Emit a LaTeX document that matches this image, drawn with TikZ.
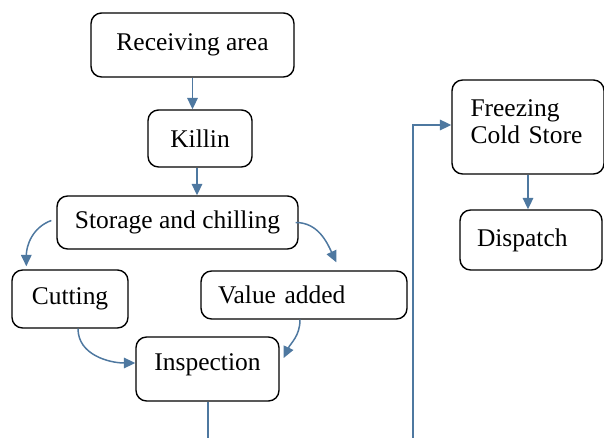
\documentclass[tikz,border=0pt]{standalone}
\usepackage{fontspec}
\setmainfont{Liberation Serif}
\newfontfamily\flowfont{Liberation Serif}
\usetikzlibrary{arrows.meta}
\definecolor{flowblue}{RGB}{78,120,160}

\begin{document}
\begin{tikzpicture}[x=0.02cm,y=-0.02cm,
  box/.style={draw,thick,rounded corners=6pt,inner sep=0pt,
    font=\flowfont\fontsize{14.5}{16.5}\selectfont},
  flow/.style={flowblue,line width=0.85pt,-{Triangle[length=6.5pt,width=6pt]}}]
  \clip (0,0) rectangle (604,438);
  % main line of boxes
  \node[box,minimum width=4.06cm,minimum height=1.28cm] (recv) at (192.5,45) {Receiving area};
  \node[box,minimum width=2.08cm,minimum height=1.14cm] (killin) at (200,138.5) {Killin};
  \node[box,minimum width=4.82cm,minimum height=1.06cm] (store) at (177.5,222.5) {Storage and chilling};
  \node[box,minimum width=2.32cm,minimum height=1.16cm] (cut) at (70,299) {Cutting};
  \node[box,minimum height=0.96cm,text width=3.44cm,inner xsep=0.34cm,align=left] (value) at (304,295) {Value added};
  \node[box,minimum width=2.86cm,minimum height=1.28cm,text depth=8pt] (insp) at (207.5,369) {Inspection};
  % right column
  \node[box,minimum height=1.88cm,text width=2.3cm,inner xsep=0.37cm,align=left] (freeze) at (528,127) {Freezing\\[-1pt]Cold Store\\[-15pt]\strut};
  \node[box,minimum height=1.2cm,text width=2.16cm,inner xsep=0.34cm,align=left] (disp) at (531,240) {Dispatch};
  % arrows
  \draw[flow] (recv.south) -- (recv.south |- killin.north);
  \draw[flow] ([xshift=-0.06cm]killin.south) -- ([xshift=-0.06cm]killin.south |- store.north);
  \draw[flow] ([xshift=-0.1cm,yshift=0.04cm]store.west) to[out=200,in=90] ([xshift=0.3cm,yshift=0.06cm]cut.north west);
  \draw[flow] ([xshift=-0.06cm]store.east) to[out=0,in=115] ([xshift=2.72cm,yshift=0.16cm]value.north west);
  \draw[flow] ([xshift=0.16cm]cut.south) to[out=-90,in=180] ([yshift=0.12cm]insp.west);
  \draw[flow] ([xshift=-0.08cm]value.south) to[out=-90,in=65] ([xshift=0.08cm,yshift=0.22cm]insp.east);
  \coordinate (turn) at (413,470);
  \draw[flow] ([xshift=0.01cm]insp.south) |- (turn) |- ([yshift=0.04cm]freeze.west);
  \draw[flow] (freeze.south) -- (freeze.south |- disp.north);
\end{tikzpicture}
\end{document}
